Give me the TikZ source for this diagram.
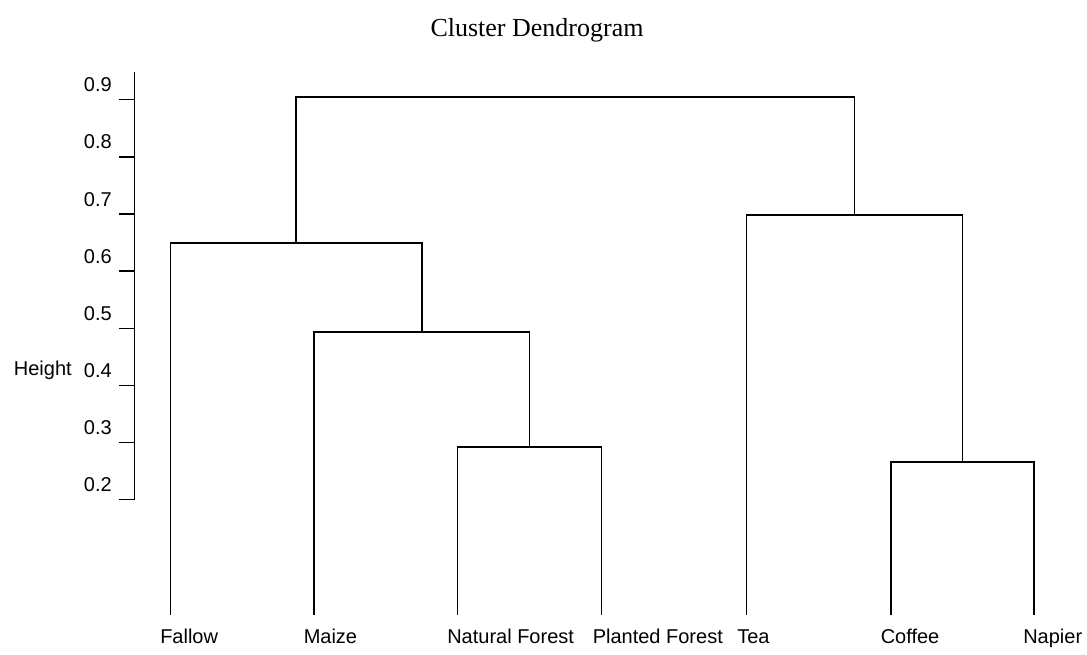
\documentclass[tikz,border=0pt]{standalone}
\usepackage{fontspec}
\setmainfont{Liberation Sans}
\newfontfamily\titlefont{Liberation Serif}
\begin{document}
\begin{tikzpicture}[x=0.75pt,y=-0.75pt,
  branch/.style={draw=black,line width=1.2pt,line cap=rect},
  axisline/.style={draw=black,line width=1.1pt},
  leaflabel/.style={anchor=base west,inner sep=0pt,font=\fontsize{15}{18}\selectfont},
  ticklabel/.style={anchor=base east,inner sep=0pt,font=\fontsize{15}{18}\selectfont},
  titlelabel/.style={anchor=base,inner sep=0pt,font=\titlefont\fontsize{19.5}{23}\selectfont}]
\useasboundingbox (0,0) rectangle (1087,654);
\fill[white] (0,0) rectangle (1087,654);
% title
\node[titlelabel] (title) at (537,36) {Cluster Dendrogram};
% axis
\coordinate (axtop) at (134.5,72);
\coordinate (axbot) at (134.5,500);
\draw[axisline] (axtop) -- (axbot);
\foreach \k in {2,...,9}{
  \pgfmathsetmacro{\yy}{614-\k*57.14}
  \coordinate (tk\k) at (134.5,\yy);
  \coordinate (tl\k) at (119,\yy);
  \draw[axisline] (tl\k) -- (tk\k);
  \node[ticklabel] (lab\k) at (112,\yy-8) {0.\k};
}
\node[ticklabel] (ylab) at (72,375) {Height};
% leaves
\coordinate (Fallow) at (170.5,614);
\coordinate (Maize) at (314,614);
\coordinate (NF) at (457.5,614);
\coordinate (PF) at (601.3,614);
\coordinate (Tea) at (746.5,614);
\coordinate (Coffee) at (891,614);
\coordinate (Napier) at (1034,614);
% merges
\coordinate (m1) at (529.4,446.7);
\coordinate (m2) at (421.7,332);
\coordinate (m3) at (296,243);
\coordinate (m4) at (962.5,461.7);
\coordinate (m5) at (854.5,214.7);
\coordinate (m6) at (575,97);
\draw[branch] (NF) |- (m1) -| (PF);
\draw[branch] (Maize) |- (m2) -| (m1);
\draw[branch] (Fallow) |- (m3) -| (m2);
\draw[branch] (Coffee) |- (m4) -| (Napier);
\draw[branch] (Tea) |- (m5) -| (m4);
\draw[branch] (m3) |- (m6) -| (m5);
% leaf labels
\node[leaflabel] (lFallow) at (160,643) {Fallow};
\node[leaflabel] (lMaize) at (303.5,643) {Maize};
\node[leaflabel] (lNF) at (447,643) {Natural Forest};
\node[leaflabel] (lPF) at (592.5,643) {Planted Forest};
\node[leaflabel] (lTea) at (737,643) {Tea};
\node[leaflabel] (lCoffee) at (880.5,643) {Coffee};
\node[leaflabel] (lNapier) at (1023,643) {Napier};
\end{tikzpicture}
\end{document}
